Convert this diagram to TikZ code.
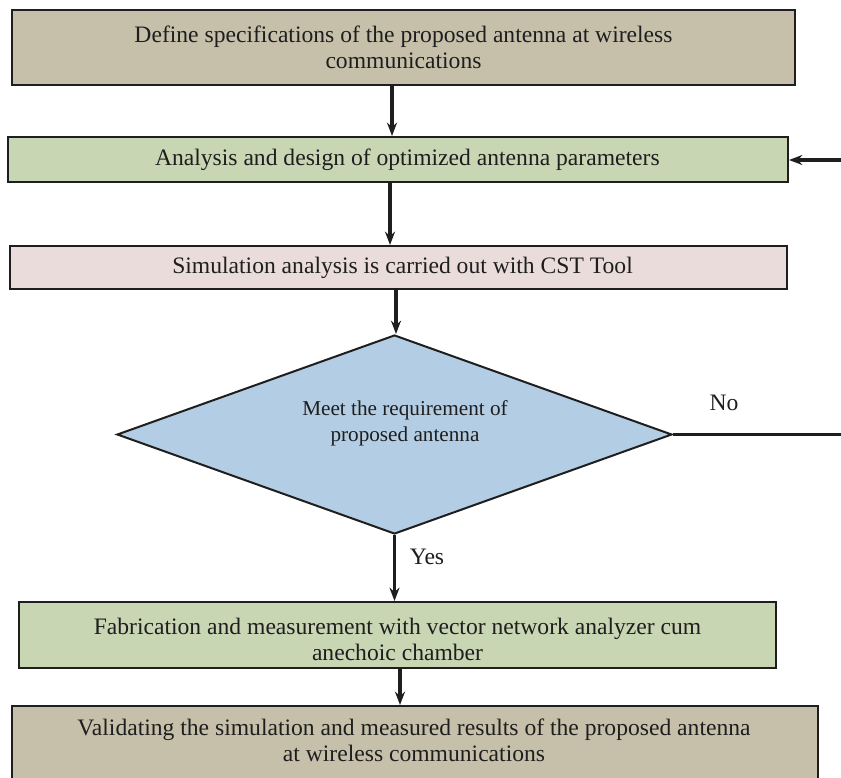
\documentclass[tikz,border=0pt]{standalone}
\usepackage{fontspec}
\setmainfont{Liberation Serif}
\usetikzlibrary{arrows.meta,shapes.geometric}
\definecolor{tanbox}{HTML}{C6C0AA}
\definecolor{greenbox}{HTML}{C8D6B4}
\definecolor{pinkbox}{HTML}{EBDCDC}
\definecolor{bluebox}{HTML}{B3CDE4}
\definecolor{edge}{HTML}{1E1E1E}
\tikzset{
  mainfont/.style={font=\fontsize{17.7}{19.5}\selectfont},
  box/.style={draw=edge, line width=1.5pt, rectangle, inner sep=0pt, align=center,
    mainfont, text=edge},
  plain/.style={inner sep=0pt, align=center, text=edge},
  arr/.style={draw=edge, line width=2.3pt, -{Stealth[length=10pt,width=7.5pt]}},
  lin/.style={draw=edge, line width=2.4pt},
}
\begin{document}
\begin{tikzpicture}[x=0.75pt,y=-0.75pt]
\useasboundingbox (0,0) rectangle (841,777);
\clip (0,0) rectangle (841,777);
% boxes
\node[box, fill=tanbox, minimum width=783*0.75pt, minimum height=75*0.75pt] (b1) at (403.5,47.5)
  {Define specifications of the proposed antenna at wireless\\communications};
\node[box, fill=greenbox, minimum width=780*0.75pt, minimum height=45*0.75pt] (b2) at (398,159.5)
  {\hspace*{14pt}Analysis and design of optimized antenna parameters};
\node[box, fill=pinkbox, minimum width=777*0.75pt, minimum height=43*0.75pt] (b3) at (398.5,267.5)
  {\hspace*{6pt}Simulation analysis is carried out with CST Tool};
\node[draw=edge, line width=1.5pt, fill=bluebox, diamond, inner sep=0pt,
  minimum width=555*0.75pt, minimum height=199*0.75pt] (d) at (394.5,434.5) {};
\node[plain, font=\fontsize{15.9}{19.5}\selectfont] (dt) at (405,423)
  {Meet the requirement of\\proposed antenna};
\node[box, fill=greenbox, minimum width=757*0.75pt, minimum height=66*0.75pt] (b5) at (397.5,635)
  {\raisebox{0pt}[19pt]{}Fabrication and measurement with vector network analyzer cum\\anechoic chamber};
\node[box, fill=tanbox, minimum width=806*0.75pt, minimum height=90*0.75pt, anchor=north] (b6) at (415,705) {};
\node[plain, mainfont] (b6t) at (414,740)
  {Validating the simulation and measured results of the proposed antenna\\at wireless communications};
% labels
\node[plain, mainfont] (no) at (724,403) {No};
\node[plain, mainfont] (yes) at (427,557) {Yes};
% free ends at the right edge
\coordinate (fbin) at (841,160);
\coordinate (noend) at (841,434.5);
% connectors
\draw[arr] (392,0 |- b1.south) -- (392,0 |- b2.north);
\draw[arr] (390,0 |- b2.south) -- (390,0 |- b3.north);
\draw[arr] (396,0 |- b3.south) -- (396,0 |- d.north);
\draw[arr] (d.south) -- (394.5,0 |- b5.north);
\draw[arr] (400,0 |- b5.south) -- (400,0 |- b6.north);
\draw[arr] (fbin) -- (fbin -| b2.east);
\draw[lin] (d.east) -- (noend);
\end{tikzpicture}
\end{document}
